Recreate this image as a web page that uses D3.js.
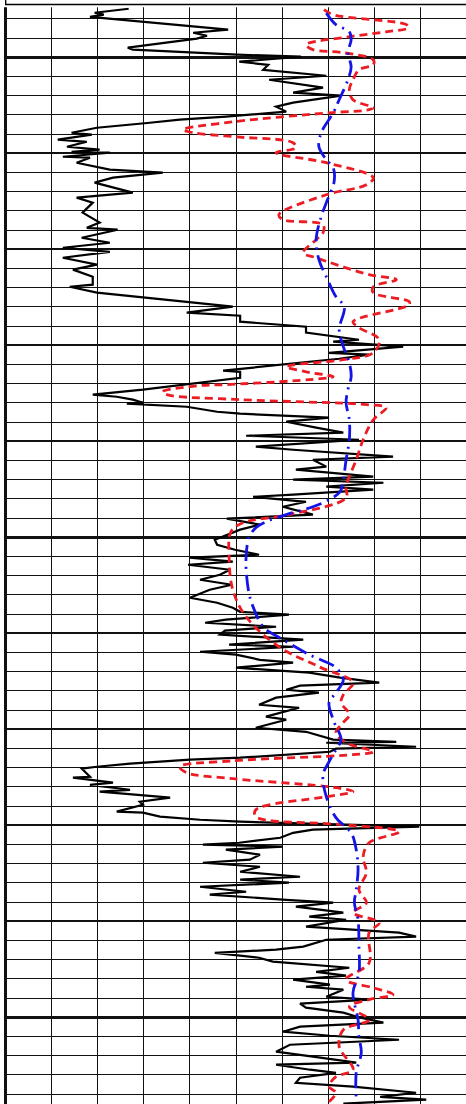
<!DOCTYPE html>
<html><head><meta charset="utf-8">
<script src="https://cdn.jsdelivr.net/npm/d3@7"></script>
<style>html,body{margin:0;padding:0;background:#fff;overflow:hidden}svg{display:block}</style>
</head><body><svg id="c" width="466" height="1104"></svg>
<script>
// ---- data (depth in m, curve value in % of track width) ----
const depthTop = 1922, depthBottom = 1980;
const valueTicks = [0,10,20,30,40,50,60,70,80,90,100];
const depthMinorStep = 1, depthMediumStep = 5, depthMajorStep = 25;

const blackCurve = [
[1922.47,26.7],[1922.68,19.3],[1922.78,21.3],[1922.89,18.3],[1923.56,48.3],[1923.72,40.7],[1923.88,43.7],[1924.03,41.5],
[1924.50,26.5],[1924.60,27.6],[1924.86,50.2],[1924.97,64.1],[1925.23,50.7],[1925.39,57.0],[1925.65,55.9],[1925.96,69.6],
[1926.17,57.2],[1926.58,68.9],[1926.84,62.4],[1927.00,72.8],[1927.36,62.4],[1927.57,58.7],[1927.83,60.9],[1928.09,47.8],
[1928.25,37.8],[1928.41,31.3],[1928.67,19.8],[1928.93,14.3],[1929.03,18.7],[1929.29,11.3],[1929.40,17.6],[1929.66,13.3],
[1929.81,20.4],[1929.92,14.3],[1929.97,22.6],[1930.18,12.4],[1930.23,18.3],[1930.49,15.4],[1930.85,22.6],[1931.01,34.1],
[1931.27,23.3],[1931.53,19.3],[1932.05,27.6],[1932.31,15.4],[1932.57,18.9],[1933.09,16.7],[1933.61,20.4],[1933.88,17.6],
[1933.98,24.3],[1934.40,16.5],[1934.66,22.6],[1934.92,12.4],[1935.13,22.6],[1935.44,12.4],[1935.80,19.8],[1936.06,14.6],
[1936.43,18.9],[1936.84,18.9],[1936.95,13.9],[1937.26,19.8],[1937.99,49.3],[1938.30,39.3],[1938.46,50.9],[1938.77,50.9],
[1939.03,65.2],[1939.34,65.2],[1939.71,76.7],[1939.81,71.1],[1940.07,86.3],[1940.39,70.2],[1940.49,78.9],[1940.70,72.4],
[1941.32,47.2],[1941.38,50.9],[1941.69,50.9],[1942.31,29.8],[1942.57,18.9],[1942.68,24.1],[1942.83,27.6],[1942.99,29.8],
[1943.04,26.3],[1943.20,39.3],[1943.46,45.9],[1943.56,50.9],[1943.77,70.2],[1943.98,60.9],[1944.29,67.4],[1944.55,73.3],
[1944.71,52.2],[1944.92,76.7],[1945.28,54.3],[1945.44,62.4],[1945.80,84.1],[1945.96,66.7],[1946.32,69.6],[1946.48,63.0],
[1946.84,79.8],[1947.00,62.4],[1947.16,82.0],[1947.36,69.6],[1947.52,79.8],[1947.78,62.4],[1947.89,53.7],[1948.15,65.2],
[1948.41,60.2],[1948.82,66.7],[1949.03,48.0],[1949.34,55.2],[1949.60,50.9],[1950.13,45.4],[1950.39,45.9],[1950.65,49.8],
[1950.91,55.0],[1951.06,40.0],[1951.27,49.3],[1951.43,39.6],[1951.69,48.7],[1951.95,46.5],[1952.21,42.2],[1952.47,49.1],
[1952.73,44.3],[1953.15,40.0],[1953.41,45.9],[1953.67,49.3],[1953.88,50.9],[1954.03,61.5],[1954.29,47.8],[1954.45,43.3],
[1954.66,58.7],[1954.86,47.6],[1955.07,46.5],[1955.33,64.6],[1955.59,48.5],[1955.70,62.4],[1955.96,42.2],[1956.11,50.0],
[1956.38,55.2],[1956.53,62.4],[1956.79,50.0],[1957.05,65.9],[1957.31,72.6],[1957.57,81.1],[1957.73,63.9],[1957.94,60.9],
[1958.09,68.0],[1958.35,58.7],[1958.72,55.0],[1958.88,63.7],[1959.34,56.5],[1959.50,60.9],[1959.92,54.3],[1960.13,65.2],
[1960.54,71.1],[1960.65,84.8],[1960.70,69.6],[1960.91,89.1],[1961.01,71.7],[1961.17,70.4],[1961.48,50.9],[1961.58,40.0],
[1961.79,27.0],[1961.95,19.8],[1962.05,16.5],[1962.47,18.3],[1962.52,14.6],[1962.78,23.3],[1962.89,18.3],[1963.15,27.0],
[1963.25,20.4],[1963.56,35.7],[1963.77,29.1],[1963.93,29.8],[1964.29,24.1],[1964.34,29.8],[1964.55,33.5],[1964.71,42.2],
[1964.81,50.9],[1965.07,89.8],[1965.23,66.7],[1965.39,62.4],[1965.65,59.6],[1965.91,50.7],[1966.01,42.8],[1966.11,60.2],
[1966.27,47.8],[1966.53,55.2],[1966.79,53.0],[1966.95,42.8],[1967.16,55.2],[1967.42,50.9],[1967.68,63.9],[1967.83,50.9],
[1967.99,61.5],[1968.20,42.2],[1968.46,52.2],[1968.61,44.3],[1968.88,60.9],[1969.03,71.1],[1969.24,63.0],[1969.55,73.3],
[1969.76,65.9],[1969.92,73.9],[1970.28,65.2],[1970.59,85.4],[1970.80,89.1],[1970.96,69.6],[1971.32,64.6],[1971.48,58.7],
[1971.64,45.4],[1971.90,55.0],[1972.10,58.0],[1972.42,74.6],[1972.63,67.4],[1972.83,73.9],[1973.04,62.4],[1973.30,70.4],
[1973.41,65.2],[1973.56,73.3],[1973.93,69.6],[1974.08,79.1],[1974.29,63.9],[1974.50,65.2],[1974.76,73.3],[1975.02,77.0],
[1975.28,82.0],[1975.49,63.9],[1975.75,60.2],[1975.96,70.4],[1976.17,85.4],[1976.43,61.7],[1976.79,58.7],[1977.10,68.3],
[1977.36,76.1],[1977.47,58.7],[1977.73,66.1],[1977.89,71.7],[1978.15,63.9],[1978.41,63.0],[1978.61,75.4],[1978.93,89.1],
[1979.14,81.3],[1979.29,91.3],[1979.50,73.3]
];

const redCurve = [
[1922.52,69.1],[1922.78,71.1],[1923.30,87.0],[1923.46,87.4],[1923.67,82.6],[1923.93,74.6],[1924.34,65.2],[1924.60,66.7],
[1924.76,73.3],[1925.13,79.8],[1925.39,79.8],[1925.65,76.7],[1926.17,75.4],[1926.69,74.6],[1927.21,75.4],[1927.63,79.8],
[1927.73,78.9],[1927.89,70.2],[1928.35,49.8],[1928.77,38.5],[1928.93,40.7],[1929.14,49.8],[1929.45,62.4],[1929.71,63.0],
[1929.97,58.7],[1930.49,69.6],[1931.27,79.8],[1931.64,78.3],[1932.16,69.6],[1933.20,59.3],[1933.46,60.2],[1933.72,68.9],
[1934.14,68.9],[1934.50,67.4],[1935.18,64.6],[1935.44,67.4],[1936.32,78.9],[1936.58,84.8],[1936.95,79.8],[1937.26,79.8],
[1937.73,87.6],[1937.89,87.6],[1938.77,75.4],[1939.08,76.7],[1939.71,81.1],[1940.39,79.8],[1940.75,73.3],[1941.11,60.9],
[1941.38,65.2],[1941.64,71.1],[1941.79,65.9],[1942.05,47.8],[1942.10,42.2],[1942.42,34.1],[1942.57,35.0],[1942.83,50.9],
[1943.09,78.3],[1943.25,82.6],[1943.88,79.8],[1944.92,77.6],[1945.96,76.1],[1947.36,73.9],[1947.94,73.9],[1948.82,61.5],
[1949.24,51.5],[1949.71,48.9],[1951.01,48.5],[1952.73,49.3],[1954.14,52.2],[1955.70,59.3],[1956.74,68.0],[1957.57,75.4],
[1958.20,73.3],[1958.61,72.8],[1959.24,74.6],[1959.76,72.8],[1960.18,71.7],[1960.70,73.9],[1961.17,79.8],[1961.32,75.4],
[1961.64,49.3],[1961.95,37.8],[1962.26,39.3],[1962.57,49.3],[1963.04,71.7],[1963.25,75.4],[1963.51,69.6],[1964.19,54.3],
[1964.55,54.3],[1964.97,73.3],[1965.33,85.4],[1965.91,78.9],[1966.64,77.6],[1967.47,78.3],[1968.35,76.7],[1969.03,78.3],
[1969.55,75.4],[1970.07,81.1],[1970.59,78.9],[1972.16,78.9],[1973.04,73.9],[1973.46,79.8],[1973.82,84.1],[1974.08,78.9],
[1974.45,74.6],[1975.13,78.9],[1975.65,73.3],[1976.53,72.4],[1977.73,75.4],[1978.09,71.7],[1978.61,70.2],[1978.93,71.7],
[1979.40,70.2]
];

const blueCurve = [
[1922.70,69.6],[1923.30,71.7],[1923.67,74.6],[1924.08,75.0],[1924.76,74.3],[1925.49,75.0],[1926.17,74.3],[1927.21,72.4],
[1927.89,71.1],[1928.93,68.5],[1929.66,68.0],[1930.33,69.6],[1930.75,71.1],[1931.48,71.3],[1932.57,69.6],[1933.30,68.5],
[1934.50,67.4],[1935.54,68.0],[1936.43,69.6],[1937.47,71.7],[1937.99,73.5],[1939.19,72.4],[1940.07,73.3],[1940.91,74.6],
[1941.64,75.0],[1942.31,74.3],[1942.99,73.9],[1943.88,74.6],[1944.92,74.6],[1945.96,73.9],[1947.00,73.3],[1947.63,72.6],
[1948.04,70.2],[1948.41,66.7],[1948.82,60.9],[1949.19,56.5],[1949.50,54.3],[1950.02,52.8],[1951.01,52.2],[1951.69,52.2],
[1952.89,52.8],[1953.61,53.7],[1954.66,55.9],[1955.33,60.2],[1956.11,65.9],[1956.79,71.7],[1957.42,73.3],[1958.09,71.7],
[1958.61,70.2],[1959.50,71.1],[1960.54,72.8],[1961.06,71.7],[1961.69,70.2],[1962.36,68.9],[1963.51,69.6],[1964.60,71.7],
[1965.39,75.0],[1966.27,76.1],[1967.31,76.5],[1968.35,76.1],[1969.03,75.7],[1969.92,76.5],[1971.32,76.7],[1972.68,76.7],
[1973.72,75.4],[1975.13,76.5],[1976.01,76.7],[1976.84,77.2],[1977.89,76.1],[1979.29,76.1]
];

// ---- drawing ----
const W = 466, H = 1104;
const plotTop = 7.3;
const x = d3.scaleLinear().domain([0, 100]).range([5.7, 466.3]);
const y = d3.scaleLinear().domain([depthTop, depthBottom]).range([-0.3, 1113.3]);

const svg = d3.select('#c');
const defs = svg.append('defs');
defs.append('clipPath').attr('id', 'plotclip')
  .append('rect').attr('x', 0).attr('y', plotTop).attr('width', W).attr('height', H - plotTop);

// header box edge above the track
svg.append('path')
  .attr('d', `M${x(0)},0 V4.5 H${W}`)
  .attr('fill', 'none').attr('stroke', '#000').attr('stroke-width', 1.3);

const plot = svg.append('g').attr('clip-path', 'url(#plotclip)');
const grid = plot.append('g').attr('shape-rendering', 'crispEdges');

const depthLines = d3.range(depthTop, depthBottom + 0.001, depthMinorStep);
grid.selectAll('line.h').data(depthLines).join('line')
  .attr('class', 'h')
  .attr('x1', x(0)).attr('x2', W)
  .attr('y1', d => y(d)).attr('y2', d => y(d))
  .attr('stroke', '#111')
  .attr('stroke-width', d => d % depthMajorStep === 0 ? 3 : (d % depthMediumStep === 0 ? 2 : 1));

grid.selectAll('line.v').data(valueTicks).join('line')
  .attr('class', 'v')
  .attr('x1', d => x(d)).attr('x2', d => x(d))
  .attr('y1', plotTop).attr('y2', H)
  .attr('stroke', '#111')
  .attr('stroke-width', d => d === 0 ? 2.6 : 1);

const line = d3.line().x(d => x(d[1])).y(d => y(d[0]));
const smooth = d3.line().x(d => x(d[1])).y(d => y(d[0])).curve(d3.curveCatmullRom.alpha(0.5));

plot.append('path').datum(blackCurve).attr('d', line)
  .attr('fill', 'none').attr('stroke', '#000').attr('stroke-width', 2.2)
  .attr('stroke-linejoin', 'miter').attr('stroke-miterlimit', 3);

plot.append('path').datum(redCurve).attr('d', smooth)
  .attr('fill', 'none').attr('stroke', '#ec1c24').attr('stroke-width', 2.8)
  .attr('stroke-dasharray', '8,5');

plot.append('path').datum(blueCurve).attr('d', smooth)
  .attr('fill', 'none').attr('stroke', '#1414e6').attr('stroke-width', 2.8)
  .attr('stroke-dasharray', '16,6,2,6');
</script>
</body></html>
